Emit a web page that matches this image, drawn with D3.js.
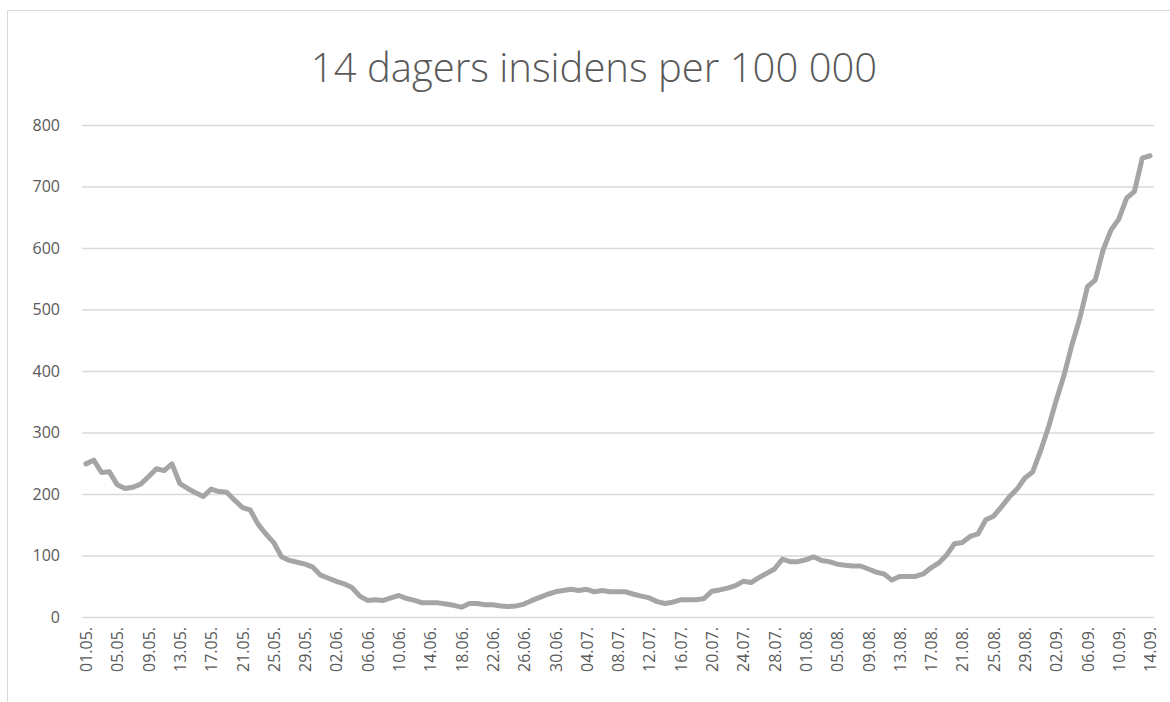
<!DOCTYPE html>
<html>
<head>
<meta charset="utf-8">
<script src="https://cdn.jsdelivr.net/npm/d3@7"></script>
<style>
  body { margin: 0; background: #fff; }
  svg { display: block; }
</style>
</head>
<body>
<svg id="chart" width="1170" height="702"></svg>
<script>
// 14 day incidence per 100 000, daily from 01.05 to 14.09
var startDay = "2021-05-01";
var values = [
	249, 255, 235, 236, 215, 209, 211, 216, 228, 241,
	238, 249, 217, 209, 202, 196, 208, 204, 203, 190,
	178, 174, 151, 135, 121, 98, 92, 89, 86, 81,
	68, 63, 58, 54, 48, 34, 27, 28, 27, 31,
	35, 30, 27, 23, 23, 23, 21, 19, 16, 22,
	22, 20, 20, 18, 17, 18, 21, 27, 32, 37,
	41, 43, 45, 43, 45, 41, 43, 41, 41, 41,
	37, 34, 31, 25, 22, 24, 28, 28, 28, 30,
	42, 44, 47, 51, 58, 56, 64, 71, 78, 94,
	90, 90, 93, 98, 92, 90, 86, 84, 83, 83,
	78, 73, 70, 60, 66, 66, 66, 70, 80, 88,
	101, 119, 121, 131, 135, 158, 164, 179, 195, 208,
	226, 236, 270, 308, 352, 393, 442, 485, 537, 548,
	597, 629, 647, 681, 692, 746, 750
];
var yTicks = [0, 100, 200, 300, 400, 500, 600, 700, 800];
var title = "14 dagers insidens per 100 000";

var fmt = d3.timeFormat("%d.%m.");
var start = d3.timeParse("%Y-%m-%d")(startDay);
var days = values.map((v, i) => fmt(d3.timeDay.offset(start, i)));
var data = values.map((v, i) => ({day: days[i], value: v}));

var svg = d3.select("#chart");
var textColor = "#595959";
var font = "'Open Sans', 'Liberation Sans', sans-serif";

// chart border
svg.append("rect")
	.attr("x", 7.5).attr("y", 10.5)
	.attr("width", 1200).attr("height", 720)
	.attr("fill", "none")
	.attr("stroke", "#d9d9d9");

svg.append("text")
	.attr("x", 594).attr("y", 82)
	.attr("text-anchor", "middle")
	.attr("fill", textColor)
	.style("font-family", font)
	.style("font-weight", 300)
	.style("font-size", "40px")
	.text(title);

var x = d3.scalePoint()
	.domain(days)
	.range([82, 1154])
	.padding(0.5);

var y = d3.scaleLinear()
	.domain([0, 800])
	.range([617, 125]);

// gridlines + y labels
var yAxis = svg.append("g")
	.attr("transform", "translate(82,0)")
	.call(d3.axisLeft(y).tickValues(yTicks).tickSize(-1072).tickPadding(22));
yAxis.select(".domain").remove();
yAxis.selectAll(".tick line")
	.attr("stroke", "#d9d9d9")
	.attr("stroke-width", 1.5);
yAxis.selectAll(".tick text")
	.attr("fill", textColor)
	.style("font-family", font)
	.style("font-size", "16px");

// x labels every 4 days
var xAxis = svg.append("g")
	.attr("transform", "translate(0,617)")
	.call(d3.axisBottom(x).tickValues(days.filter((d, i) => i % 4 == 0)).tickSize(0));
xAxis.select(".domain").remove();
xAxis.selectAll(".tick text")
	.attr("transform", "rotate(-90)")
	.attr("text-anchor", "end")
	.attr("x", -10)
	.attr("y", 0)
	.attr("dy", "0.35em")
	.attr("fill", textColor)
	.style("font-family", font)
	.style("font-size", "16px");

var line = d3.line()
	.x(d => x(d.day))
	.y(d => y(d.value));

svg.append("path")
	.datum(data)
	.attr("d", line)
	.attr("fill", "none")
	.attr("stroke", "#a5a5a5")
	.attr("stroke-width", 5)
	.attr("stroke-linejoin", "round")
	.attr("stroke-linecap", "round");
</script>
</body>
</html>
